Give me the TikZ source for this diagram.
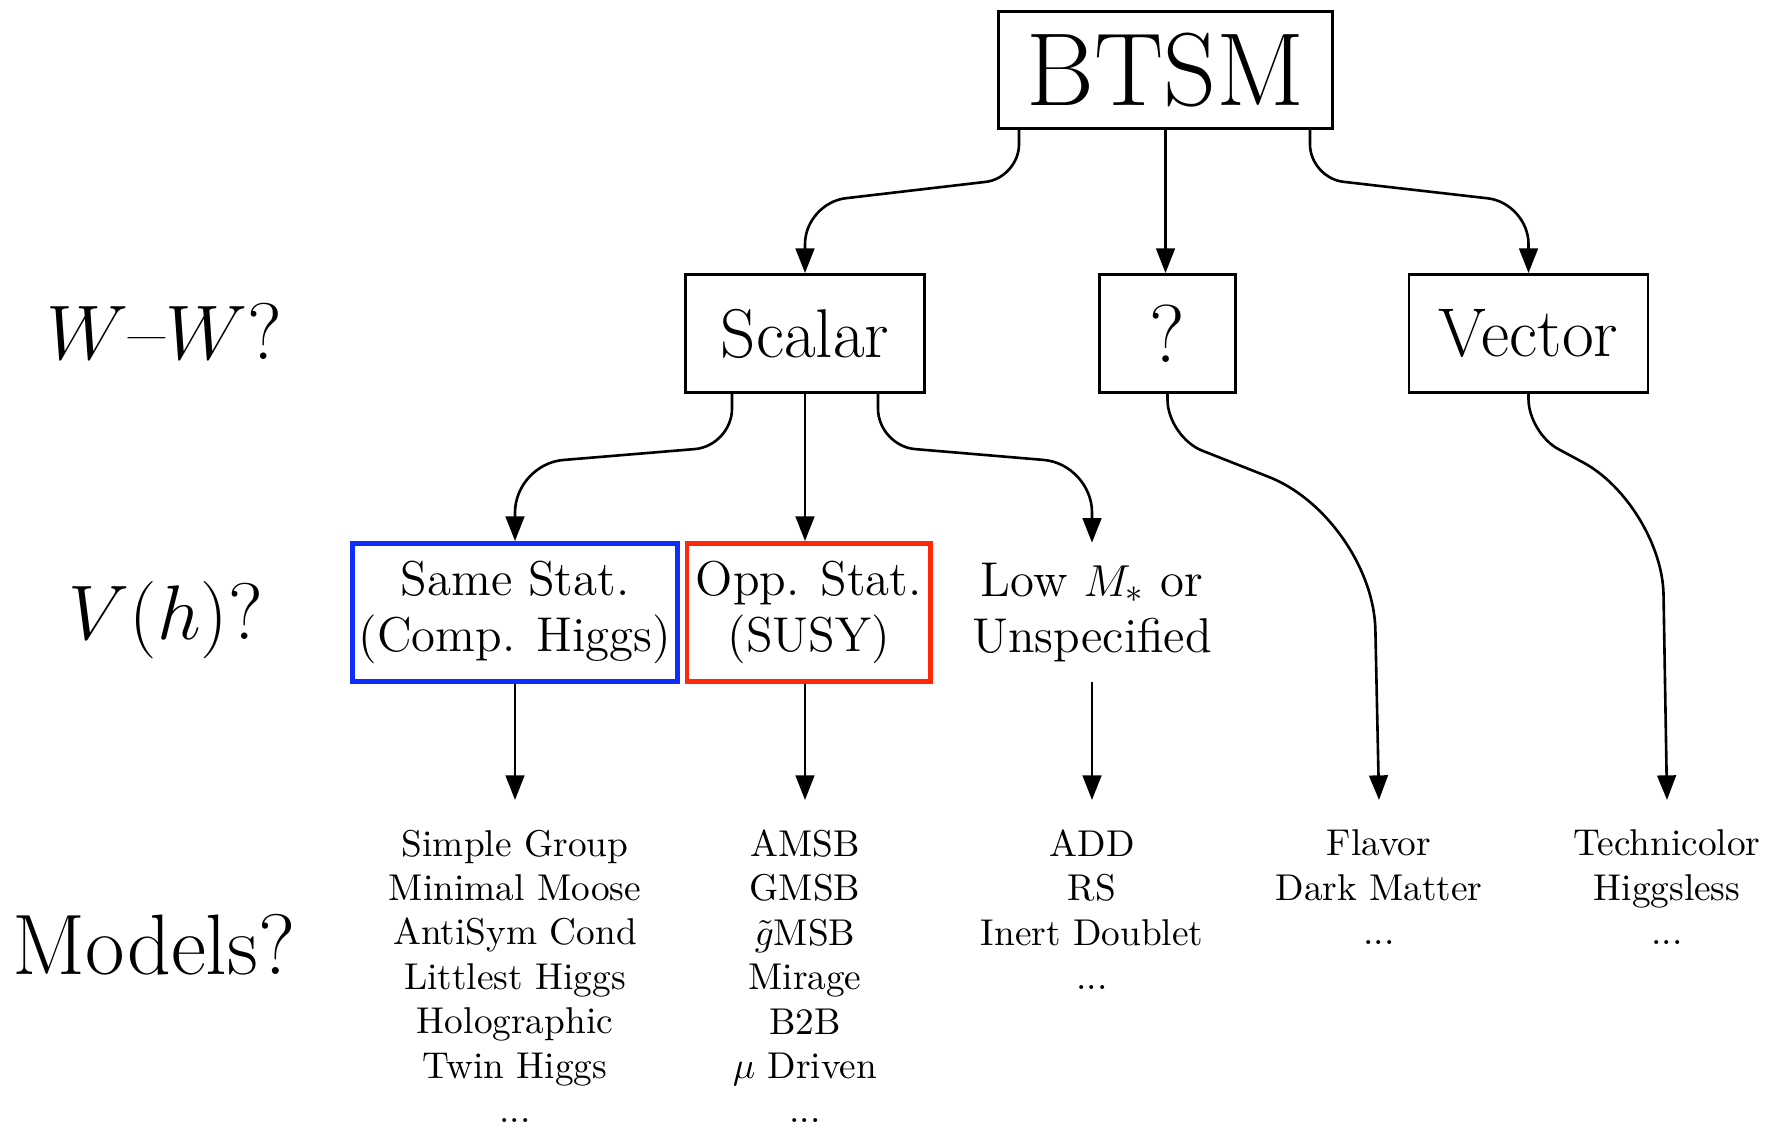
\documentclass[tikz,border=0pt]{standalone}
\usetikzlibrary{arrows.meta,calc}

\definecolor{boxblue}{RGB}{15,45,255}
\definecolor{boxred}{RGB}{255,40,10}

% arrow that leaves straight down, bends onto a slanted run, and bends down again
% #1 start, #2 first bend, #3 its radius, #4 second bend, #5 its radius, #6 end
\newcommand{\bendlink}[6]{%
  \draw[link] (#1) -- ($(#2)!#3!(#1)$)
    .. controls ($(#2)!{0.45*#3}!(#1)$) and ($(#2)!{0.45*#3}!(#4)$) .. ($(#2)!#3!(#4)$)
    -- ($(#4)!#5!(#2)$)
    .. controls ($(#4)!{0.45*#5}!(#2)$) and ($(#4)!{0.45*#5}!(#6)$) .. ($(#4)!#5!(#6)$)
    -- (#6);}

\begin{document}
\begin{tikzpicture}[x=0.268pt,y=-0.268pt,
  box/.style={draw,line width=0.7pt,inner sep=0pt,align=center},
  bigbox/.style={box,font=\fontsize{18.5}{22}\selectfont,minimum height=31.7pt},
  choice/.style={draw,line width=1.3pt,inner sep=0pt,align=center,
    font=\fontsize{13.1}{15.2}\selectfont,minimum height=37pt},
  plain/.style={inner sep=0pt,align=center,
    font=\fontsize{13.1}{15.2}\selectfont,minimum height=37pt},
  models/.style={anchor=north,inner xsep=0pt,inner ysep=7.8pt,align=center,
    font=\fontsize{10}{11.9}\selectfont},
  question/.style={anchor=base,inner sep=0pt,font=\fontsize{21.5}{26}\selectfont},
  link/.style={line width=0.7pt,-{Triangle[length=6.6pt,width=5pt]}}]

\useasboundingbox (0,0) rectangle (1772,1137);

% row labels
\node[question] (wwq) at (164,360) {$W$--$W$?};
\node[question] (vhq) at (166,640) {$V(h)$?};
\node[question,font=\fontsize{23}{28}\selectfont] (modq) at (154,975) {Models?};

% top of the tree
\node[box,font=\fontsize{27.8}{33}\selectfont,minimum width=89.6pt,minimum height=31.5pt]
  (btsm) at (1165.5,70) {BTSM};
\node[bigbox,minimum width=64.2pt] (scalar) at (805,333.5) {Scalar};
\node[bigbox,font=\fontsize{22}{26}\selectfont,minimum width=36.6pt] (unknown) at (1167.5,333.5) {?};
\node[bigbox,minimum width=64pt] (vector) at (1528.5,333.5) {Vector};

% kinds of Higgs potential
\node[choice,draw=boxblue,minimum width=87.2pt] (same) at (515,612.5)
  {Same Stat.\\(Comp. Higgs)};
\node[choice,draw=boxred,minimum width=65.3pt] (opp) at (808.8,612.5)
  {Opp. Stat.\\(SUSY)};
\node[plain] (low) at (1092,612.5) {Low $M_*$ or\\Unspecified};

% model lists
\node[models] (compmodels) at (515,800)
  {Simple Group\\Minimal Moose\\AntiSym Cond\\Littlest Higgs\\Holographic\\Twin Higgs\\...};
\node[models] (susymodels) at (805,800)
  {AMSB\\GMSB\\$\tilde{g}$MSB\\Mirage\\B2B\\$\mu$ Driven\\...};
\node[models] (lowmodels) at (1092,800) {ADD\\RS\\Inert Doublet\\...};
\node[models] (flavmodels) at (1379,800) {Flavor\\Dark Matter\\...};
\node[models] (techmodels) at (1667,800) {Technicolor\\Higgsless\\...};

% bend points of the curved arrows
\coordinate (b1) at ($(btsm.south)+(-146.5,0)$);
\coordinate (b1a) at (1019,178);
\coordinate (b1b) at (805,203);
\coordinate (b2) at ($(btsm.south)+(144.5,0)$);
\coordinate (b2a) at (1310,178);
\coordinate (b2b) at (1528.5,203);
\coordinate (s1) at ($(scalar.south)+(-73,0)$);
\coordinate (s1a) at (732,446);
\coordinate (s1b) at (515,464);
\coordinate (s2) at ($(scalar.south)+(73,0)$);
\coordinate (s2a) at (878,446);
\coordinate (s2b) at (1092,464);
\coordinate (qa) at (1167.5,437);
\coordinate (qb) at (1373,518);
\coordinate (va) at (1528.5,433);
\coordinate (vb) at (1662,505);

% arrows
\bendlink{b1}{b1a}{9pt}{b1b}{11pt}{scalar.north}
\draw[link] (btsm.south) -- (btsm.south |- unknown.north);
\bendlink{b2}{b2a}{9pt}{b2b}{11pt}{vector.north}

\bendlink{s1}{s1a}{10pt}{s1b}{13pt}{same.north}
\draw[link] (scalar.south) -- (scalar.south |- opp.north);
\bendlink{s2}{s2a}{10pt}{s2b}{13pt}{low.north}

\bendlink{unknown.south}{qa}{10pt}{qb}{30pt}{flavmodels.north}
\bendlink{vector.south}{va}{9pt}{vb}{24pt}{techmodels.north}

\draw[link] (same.south) -- (compmodels.north);
\draw[link] (scalar.south |- opp.south) -- (susymodels.north);
\draw[link] (low.south) -- (lowmodels.north);
\end{tikzpicture}
\end{document}
